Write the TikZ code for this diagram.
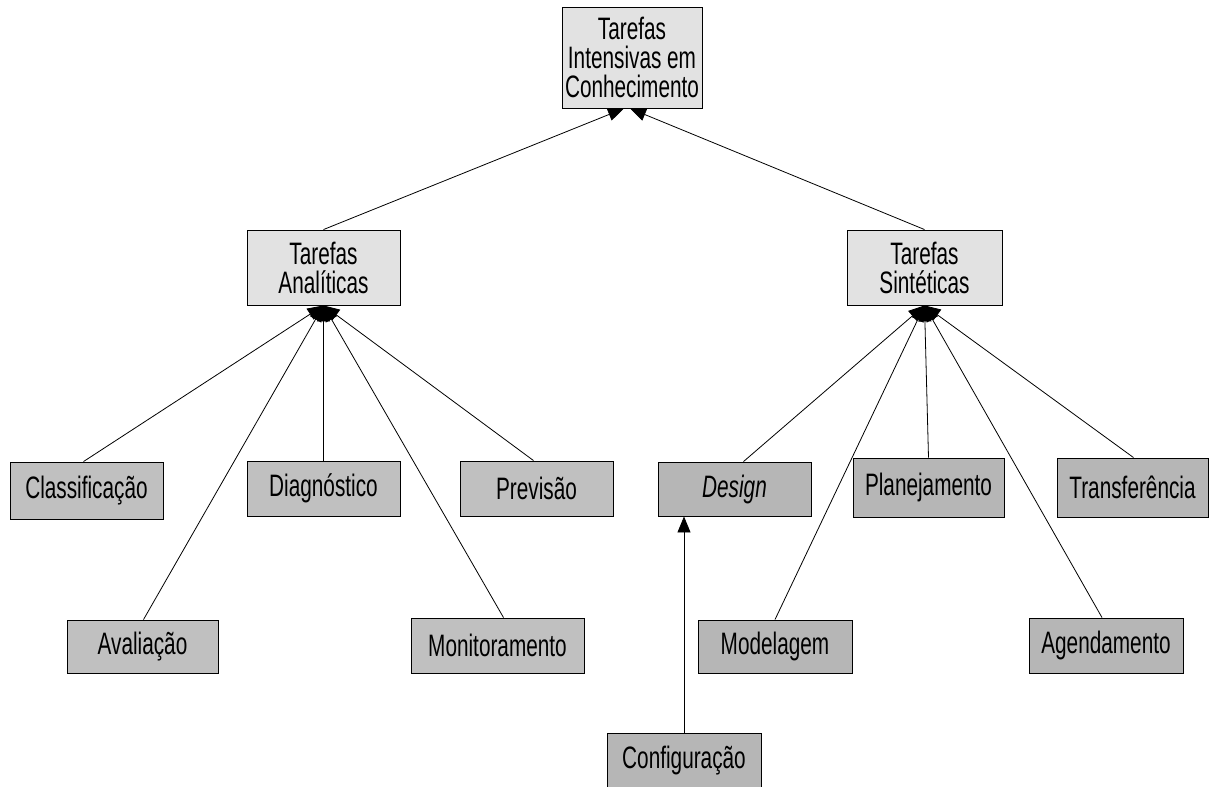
\documentclass[tikz,border=0pt]{standalone}
\usepackage{fontspec}
\usetikzlibrary{arrows.meta,calc}
\newfontfamily\boxfont[FakeStretch=0.67]{Liberation Sans}
\definecolor{groupfill}{HTML}{E2E2E2}
\definecolor{anafill}{HTML}{C0C0C0}
\definecolor{synfill}{HTML}{B6B6B6}
\tikzset{
  box/.style={draw=black, line width=0.9pt, rectangle, inner sep=0pt, align=center,
    font=\boxfont\fontsize{31}{29}\selectfont, text=black},
  groupbox/.style={box, fill=groupfill},
  anabox/.style={box, fill=anafill},
  synbox/.style={box, fill=synfill},
  link/.style={draw=black, line width=0.8pt, -{Triangle[length=16pt,width=13pt]}},
}
\newcommand{\boxat}[7]{% style, name, x1, y1, x2, y2, text
  \node[#1, minimum width={#5-#3}, minimum height={#6-#4}] (#2) at ({(#3+#5)/2},{(#4+#6)/2}) {#7};}
\begin{document}
\begin{tikzpicture}[x=1pt,y=-1pt]
\useasboundingbox (0,0) rectangle (1210,787);
\begin{scope}
\clip (0,0) rectangle (1210,787);
% root and the two task groups
\boxat{groupbox}{root}{562}{7}{702}{108}{Tarefas\\Intensivas em\\Conhecimento}
\boxat{groupbox}{ana}{247}{230}{400}{305}{Tarefas\\Analíticas}
\boxat{groupbox}{syn}{847}{230}{1002}{305}{Tarefas\\Sintéticas}
% analytic tasks
\boxat{anabox}{cls}{10}{462}{163}{519}{Classificação}
\boxat{anabox}{dia}{247}{461}{400}{516}{Diagnóstico}
\boxat{anabox}{pre}{460}{461}{613}{516}{Previsão}
\boxat{anabox}{ava}{67}{620}{218}{673}{Avaliação}
\boxat{anabox}{mon}{411}{618}{584}{673}{Monitoramento}
% synthetic tasks
\boxat{synbox}{des}{658}{462}{811}{516}{\itshape Design}
\boxat{synbox}{pla}{853}{458}{1004}{517}{Planejamento}
\boxat{synbox}{tra}{1057}{458}{1208}{517}{Transferência}
\boxat{synbox}{mod}{698}{620}{852}{673}{Modelagem}
\boxat{synbox}{age}{1029}{618}{1183}{673}{Agendamento}
\boxat{synbox}{cfg}{607}{733}{761}{789}{Configuração}
\end{scope}
% connectors
\draw[link] (ana.north) -- ($(root.south)+(-8,0)$);
\draw[link] (syn.north) -- ($(root.south)+(-2,0)$);
\foreach \n/\dx in {cls/-3, dia/0, pre/-3, ava/1, mon/6}
  \draw[link] ($(\n.north)+(\dx,0)$) -- (ana.south);
\foreach \n/\dx in {des/9, pla/0, tra/1, mod/0, age/-4}
  \draw[link] ($(\n.north)+(\dx,0)$) -- (syn.south);
\draw[link] (cfg.north) -- (cfg.north |- des.south);
\end{tikzpicture}
\end{document}
